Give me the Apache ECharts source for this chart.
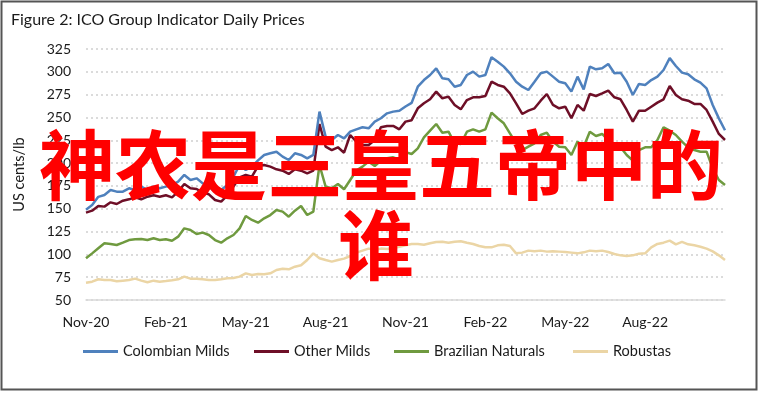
<!DOCTYPE html>
<html>
<head>
<meta charset="utf-8">
<script src="https://cdn.jsdelivr.net/npm/echarts@6/dist/echarts.min.js"></script>
<style>html,body{margin:0;padding:0;background:#fff;}#c{width:759px;height:393px;}</style>
</head>
<body>
<div id="c"></div>
<script>
// Weekly samples starting 2 Nov 2020
const startDate = '2020-11-02';
const xTickLabels = ['Nov-20','Feb-21','May-21','Aug-21','Nov-21','Feb-22','May-22','Aug-22'];
const yTicks = [50,75,100,125,150,175,200,225,250,275,300,325];
const seriesNames = ['Colombian Milds','Other Milds','Brazilian Naturals','Robustas'];

const colombianMilds = [149,154,163,165,170.5,168.7,168.7,172.4,170.5,174.2,170.5,174.2,172.4,174.2,176,179.7,187,181.5,183.3,177.8,174.2,168.7,170.5,176,185.1,197.9,192.4,196.1,
203,208.9,210.7,212.5,207.1,203.4,210.7,208.9,205.2,208.9,256.4,229,225.3,230.8,227.1,234.4,237,239.2,238.1,245.4,249.1,254.5,256.4,257.4,262,266,
283.7,291,296.5,303.8,292.9,291.8,283.7,285.6,296.5,300.2,294.7,296.5,316,311.1,305.7,298.4,289.2,283.7,280.1,289.2,298.4,300.2,294.7,289.2,287.4,278.3,
294.7,280.8,305.7,302.7,303.8,308.6,298.4,299.1,289.2,274.6,286.7,285.6,291,294.7,302,315,306.4,299.1,297.3,291.8,288.1,281.9,263.7,249,236];

const otherMilds = [145.7,147.9,153,152.3,157,155.2,158.8,160.3,162.5,160.3,163.2,164.7,163.2,164.7,162.5,168.7,177.1,172.4,171.6,167.6,165.8,159.6,157.8,164.7,174.2,184.4,187,185.1,
196.8,197.9,196.1,193.2,191.7,188.1,193.2,191.7,188.8,191.7,242.8,218,214.3,217.3,211.4,230.8,223.5,219.8,219.8,225.3,239.2,240.7,240.7,237,245.4,247,
260,265.5,269.9,278.3,271,272.8,263.7,258.9,269.1,272.1,272.1,273.5,289.2,285.6,283.7,276.4,265.5,253.8,257.4,260,268.4,275.7,263.7,260,261.8,249.1,
263.7,257.4,275.7,273.5,276.4,279.4,272.1,269.9,258.2,245.4,257.4,257.4,261.8,266.2,269.9,284.5,274.6,269.9,268.4,264.8,264.8,258.2,245.4,231.9,225.3];

const brazilianNaturals = [95.7,101.1,106.6,112.1,111.4,110.3,112.8,115.7,116.5,116.8,115.7,117.6,115.7,116.5,115,119.4,128.5,126.7,122.3,123.8,121.2,115.7,112.8,117.6,121.2,128.5,142,137.7,
134.7,139.5,143.1,148.6,146.8,141.3,147.9,153,143.1,146.8,197.9,174.2,172.4,177.1,171.3,181.5,191.7,196.1,201.6,196.8,202.7,205.2,206.3,204.1,212,210,
216.2,228.2,235.5,242.8,233.3,234.4,221.7,220.9,234.4,237,234.4,237,255.3,249.1,243.6,232.6,221.7,214.3,218,221.7,230.8,233.3,223.5,218,217.3,208.9,
223.5,218,234.4,229.7,231.9,225.3,218.7,217.3,208.9,202.7,214.3,217.3,217.3,225.3,239.2,235.5,230.8,223.5,217.3,214.3,212.5,212.5,194.3,181.5,176];

const robustas = [69,70.1,72.7,71.9,71.9,70.5,71.2,71.9,73.4,71.2,69.4,71.2,70.1,70.8,71.6,72.7,75.6,73.4,73.4,72.7,71.9,71.9,72.7,73.8,74.1,75.6,79.2,77.4,
78.5,78.1,79.2,82.9,84.3,83.6,86.5,88,93.8,101.1,95.7,93.8,92,93.8,95.3,98.2,101.9,104.1,106.3,104.8,106.3,105.9,107,108.4,109.9,111.4,
111.4,110.6,112.1,113.6,113.9,112.8,113.9,114.3,112.8,111.4,109.2,107.7,107.7,109.9,110.6,109.2,101.1,101.9,104.1,103.3,104.1,103,103.3,103,102.6,101.9,
101.1,102.2,104.1,103.3,104.1,102.6,100.4,98.9,98.2,98.9,100.8,101.1,107.7,111.4,112.8,115,111,113.6,111,109.9,108.4,106.3,103.3,98.9,93.8];

const colors = ['#4f81bd','#6e0f27','#6f9a3f','#ebd5a5'];
const legendLeft = [83, 254, 394, 573];

const categories = [];
{
  const d0 = new Date(startDate + 'T00:00:00Z');
  for (let i = 0; i < colombianMilds.length; i++) {
    const d = new Date(d0.getTime() + i * 7 * 86400000);
    categories.push(d.toISOString().slice(0,10));
  }
}

const allSeries = [colombianMilds, otherMilds, brazilianNaturals, robustas];
const chart = echarts.init(document.getElementById('c'), null, {renderer:'canvas'});
const font = 'Lato';
chart.setOption({
  animation: false,
  backgroundColor: '#fff',
  color: colors,
  title: {
    text: 'Figure 2: ICO Group Indicator Daily Prices',
    left: 6, top: 7,
    textStyle: {fontFamily: font, fontSize: 16, fontWeight: 'normal', color: '#1a1a1a'}
  },
  grid: {left: 86, right: 34, top: 49, bottom: 93},
  legend: seriesNames.map((n, k) => ({
    data: [n],
    left: legendLeft[k], top: 344,
    padding: 0,
    itemWidth: 35, itemHeight: 3,
    icon: 'rect',
    textStyle: {fontFamily: font, fontSize: 14.5, color: '#1a1a1a'}
  })),
  xAxis: {
    type: 'category',
    data: categories,
    boundaryGap: false,
    axisLine: {show: true, lineStyle: {color: '#d9d9d9', width: 1.5}},
    axisTick: {show: false},
    axisLabel: {
      interval: (idx) => idx % 13 === 0,
      formatter: (v, idx) => xTickLabels[Math.round(idx / 13)] || '',
      margin: 15,
      fontFamily: font, fontSize: 14, color: '#1a1a1a'
    },
    splitLine: {show: false}
  },
  yAxis: {
    type: 'value',
    min: yTicks[0], max: yTicks[yTicks.length-1], interval: 25,
    name: 'US cents/lb',
    nameLocation: 'middle',
    nameGap: 59,
    nameRotate: 90,
    nameTextStyle: {fontFamily: font, fontSize: 14.5, color: '#1a1a1a'},
    axisLine: {show: false},
    axisTick: {show: false},
    axisLabel: {margin: 15, fontFamily: font, fontSize: 14, color: '#1a1a1a'},
    splitLine: {show: true, lineStyle: {color: '#d0d0d0', width: 1.5, type: [2,3]}}
  },
  series: allSeries.map((arr, k) => ({
    name: seriesNames[k],
    type: 'line',
    data: arr,
    symbol: 'none',
    smooth: false,
    lineStyle: {width: 2.5, color: colors[k]},
    z: 10 - k
  })),
  graphic: [
    {type: 'rect', shape: {x: 1.5, y: 1.5, width: 755, height: 388}, style: {fill: 'none', stroke: '#555', lineWidth: 2}, z: 200, silent: true},
    {type: 'text', z: 300, silent: true, position: [381, 165],
     style: {text: '神农是三皇五帝中的', fill: '#ff0000', font: 'bold 76px "Noto Sans CJK SC"', textAlign: 'center', textVerticalAlign: 'middle', x: 0, y: 0}},
    {type: 'text', z: 300, silent: true, position: [376, 245],
     style: {text: '谁', fill: '#ff0000', font: 'bold 76px "Noto Sans CJK SC"', textAlign: 'center', textVerticalAlign: 'middle', x: 0, y: 0}}
  ]
});
</script>
</body>
</html>
